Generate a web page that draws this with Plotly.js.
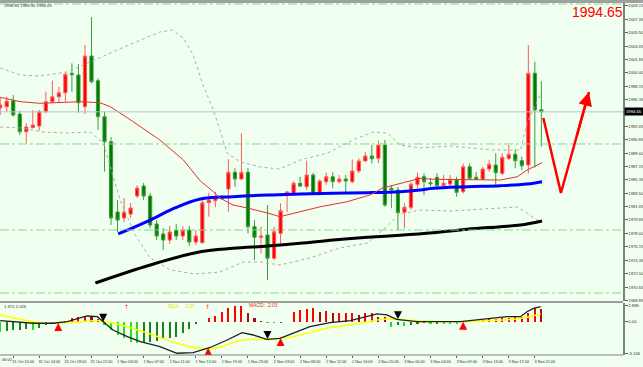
<!DOCTYPE html>
<html><head><meta charset="utf-8">
<script src="https://cdn.plot.ly/plotly-3.0.1.min.js"></script>
<style>html,body{margin:0;padding:0;background:#f0fff0}#chart{width:643px;height:367px}</style>
</head><body><div id="chart"></div>
<script>
// ---- hourly candles (index 0..83) ----
const candleOpen = [1995.18,1995.35,1996.18,1994.35,1991.93,1992.48,1992.71,1994.67,1996.04,1996.72,
1997.27,1999.93,1999.70,1995.35,2002.30,1998.92,1993.98,1990.56,1980.93,1980.11,
1980.65,1983.12,1984.49,1983.12,1979.29,1977.92,1977.09,1978.46,1977.64,1978.46,
1976.82,1976.72,1982.20,1982.48,1982.92,1984.08,1986.37,1985.45,1986.37,1978.92,
1977.46,1977.78,1974.59,1978.01,1983.53,1983.39,1984.86,1984.39,1986.00,1983.39,
1985.08,1985.76,1985.08,1985.45,1985.08,1986.55,1987.92,1988.60,1988.29,1990.11,
1984.18,1983.94,1980.89,1981.57,1984.72,1985.76,1984.94,1985.68,1984.53,1984.76,
1985.31,1983.71,1987.13,1985.68,1985.41,1986.82,1987.37,1986.23,1988.29,1988.83,
1987.96,1987.37,1999.93,1994.95];
const candleHigh = [1996.68,1996.72,1996.96,1994.81,1993.12,1994.90,1994.90,1997.41,1998.92,1998.09,
2000.15,2001.30,2001.20,2003.81,2007.64,1999.24,1994.67,1991.20,1982.57,1982.85,
1982.16,1984.63,1984.90,1983.53,1979.83,1978.74,1979.01,1979.29,1979.01,1979.01,
1978.46,1982.57,1983.57,1983.71,1983.26,1988.15,1986.92,1991.71,1986.92,1979.83,
1978.92,1981.89,1978.92,1982.12,1983.71,1985.18,1985.76,1987.96,1986.30,1985.40,
1986.31,1986.37,1986.00,1986.00,1988.15,1988.29,1989.19,1990.11,1990.70,1990.79,
1984.63,1984.35,1982.12,1985.08,1986.31,1986.23,1985.59,1986.23,1986.00,1986.00,
1985.76,1987.60,1987.60,1986.41,1987.13,1988.05,1988.97,1988.97,1990.11,1989.52,
1988.50,2003.81,2001.52,1998.85];
const candleLow = [1994.22,1994.67,1993.98,1991.48,1990.34,1992.39,1992.07,1994.45,1995.82,1995.90,
1996.04,1997.41,1994.53,1994.35,1998.56,1992.16,1986.45,1979.15,1978.19,1979.56,
1980.11,1982.85,1982.57,1978.74,1977.09,1975.72,1976.55,1977.09,1977.09,1976.27,
1976.41,1976.64,1980.29,1981.57,1982.57,1980.97,1984.39,1985.31,1978.01,1974.35,
1975.27,1971.61,1974.35,1976.64,1980.97,1983.39,1984.39,1983.94,1983.39,1983.20,
1984.63,1984.18,1984.86,1983.57,1984.86,1986.23,1987.82,1987.60,1987.60,1981.65,
1981.44,1978.46,1978.70,1981.20,1984.18,1983.26,1984.39,1983.94,1984.39,1984.39,
1983.02,1983.49,1985.31,1985.31,1985.31,1986.45,1984.63,1986.00,1988.05,1986.92,
1986.68,1986.23,1987.00,1989.90];
const candleClose = [1995.59,1996.13,1994.22,1991.93,1992.57,1992.85,1994.67,1996.04,1996.72,1997.27,
1999.79,1999.74,1995.90,2002.30,1998.78,1993.98,1990.56,1980.11,1979.83,1980.93,
1981.48,1984.22,1983.12,1979.15,1977.64,1977.09,1978.19,1977.64,1978.46,1976.82,
1977.64,1982.20,1982.57,1982.94,1982.78,1986.37,1985.45,1986.37,1978.92,1977.46,
1977.64,1974.59,1978.23,1981.11,1983.67,1984.86,1984.49,1986.00,1983.39,1985.18,
1985.76,1985.08,1985.45,1985.18,1986.55,1987.92,1988.60,1988.23,1990.11,1981.89,
1983.94,1980.83,1981.57,1984.72,1985.68,1985.08,1984.80,1984.53,1984.86,1985.41,
1983.63,1987.13,1985.55,1985.41,1986.82,1987.46,1986.31,1988.42,1988.83,1987.96,
1987.27,1999.93,1994.90,1994.65];

// ---- indicator lines (x = candle index) ----
const maRedX = [0,3.1,6.1,9.2,12.3,15.3,16.9,20.4,24.5,28.1,30.7,32.7,33.7,35.7,37.9,41,42.9,46,49.1,53.2,56.7,58.7,61.3,64.4,66.4,71.6,76.7,79.3,80.8,83.1];
const maRedY = [1996.64,1996.04,1995.82,1995.90,1996.04,1995.90,1995.35,1993.30,1990.79,1988.05,1985.18,1983.71,1982.85,1981.89,1981.48,1980.79,1980.29,1980.97,1981.65,1982.34,1983.26,1984.22,1984.86,1985.55,1985.41,1985.31,1985.31,1985.76,1986.68,1987.68];
const maBlueX = [18.1,23,26.8,30.7,35.7,41,46,51.1,56.3,61.3,64.4,66.4,71.6,76.7,80.8,83.1];
const maBlueY = [1977.92,1979.83,1981.48,1982.71,1983.03,1983.26,1983.39,1983.49,1983.57,1983.71,1983.94,1984.18,1984.39,1984.53,1984.76,1985.08];
const maBlackX = [14.6,23,30.7,35.7,41,46,51.1,56.3,61.3,66.4,71.6,76.7,79.8,83.1];
const maBlackY = [1971.20,1973.67,1975.49,1975.96,1976.27,1976.64,1977.09,1977.46,1977.74,1978.09,1978.56,1978.92,1979.15,1979.70];
const bbUpX = [0,3.1,6.1,10.3,12.7,16.9,18.9,21.5,24.5,26.4,28.1,29.6,31.1,32.7,33.7,34.8,36.8,39.9,42.9,46,50.2,54.1,57.2,59.4,61.3,64.4,69,75.6,79.8,80.8,82.8];
const bbUpY = [2000.66,1999.70,1999.56,2000.11,2001.07,2002.71,2003.53,2004.49,2005.59,2005.86,2004.76,2002.44,1998.33,1994.90,1992.16,1989.01,1987.78,1987.09,1986.82,1988.05,1989.01,1990.79,1991.89,1991.75,1990.11,1989.70,1989.97,1989.42,1989.42,1993.12,1996.96];
const bbLoX = [0,3.1,6.6,10.3,13.8,15.8,16.9,18.4,20.7,23,26.1,29.9,33.7,37.3,39.9,42.9,47.5,52.1,56.3,58.7,61.3,64.4,69,75.2,79.3,80.8,82.8];
const bbLoY = [1992.57,1992.44,1991.89,1991.75,1991.89,1990.38,1987.09,1982.57,1977.78,1974.63,1972.98,1972.44,1972.71,1974.08,1974.08,1973.67,1974.63,1976.00,1976.68,1978.46,1980.65,1981.20,1981.07,1981.34,1981.61,1980.79,1979.56];

// horizontal levels (dash-dot) and last price
const levelPrices = [2009.42, 1990.25, 1978.47, 1969.84];
const lastPrice = 1994.65;
const headerText = "1998.85 1989.90 1994.65";

// hand-drawn projection path (index, price)
const projX = [83.3, 86.0, 90.3];
const projY = [1993.81, 1983.53, 1997.37];

// ---- MACD pane ----
const macdHist = [-1.5,-1.4,-1.3,-1.2,-1.15,-1.2,-1.0,-0.5,-0.25,-0.12,
0.1,0.54,0.78,0.89,0.78,0.38,-0.49,-1.26,-2.03,-2.54,
-3.05,-3.31,-3.2,-3.05,-2.9,-2.69,-2.54,-2.29,-1.77,-1.15,
-0.34,-0.08,0.54,0.88,1.55,2.07,2.43,2.43,1.31,0.54,
0.17,-0.23,-0.23,-0.2,-0.1,1.55,1.81,1.92,2.07,1.55,
1.71,1.31,1.31,1.31,1.4,1.05,1.31,1.31,0.78,0.69,
-0.85,-0.49,-0.65,-0.49,-0.34,-0.23,-0.38,-0.34,-0.34,-0.34,
-0.38,0.05,0.17,0.17,0.28,0.38,0.38,0.54,0.54,0.69,
0.78,1.31,2.07,2.03];
const difX = [0,2,5.1,8.1,10.3,13.3,14.9,15.8,17.3,19.5,21.5,24.5,27.1,29.6,32.2,34.8,37.1,38.8,40.9,42.9,44.9,47.5,50.6,53.7,57.8,59.3,60.8,63.9,70.6,72.1,74.6,77.7,79.8,80.8,81.8,82.9];
const difY = [0.17,0.02,-0.23,-0.23,0.02,0.89,0.78,0.02,-1.26,-2.29,-3.06,-3.83,-4.84,-4.75,-3.95,-2.80,-1.68,-2.03,-2.69,-2.54,-1.77,-0.75,-0.14,0.17,1.20,1.05,0.38,0.02,0.02,0.17,0.38,0.78,0.78,1.55,2.07,2.32];
const deaX = [0,5.1,8.1,12.7,15.3,19.5,23.5,27.1,30.7,33,37.3,40.9,44.9,50.1,55.2,58.7,60.8,63.9,71.1,74.6,78.7,80.8,82.9];
const deaY = [1.05,0.02,-0.23,0.02,0.17,-0.75,-2.03,-3.30,-4.07,-4.03,-2.80,-2.69,-2.29,-1.00,-0.23,0.38,0.38,0.17,0.02,0.17,0.38,0.69,1.20];
const crossUpX = [8.9, 31.9, 43, 71];
const crossUpY = [-0.18, -4.0, -2.5, 0.0];
const crossDnX = [15.8, 41, 61];
const crossDnY = [0.0, -2.65, 0.4];
const macdRange = [-5.106, 2.886];

// ---- axis labels ----
const priceTicks = [2009.15,2007.35,2005.50,2003.65,2001.85,2000.00,1998.15,1996.35,1992.65,1990.85,1989.00,1987.15,1985.35,1983.50,1981.65,1979.85,1978.00,1976.15,1974.35,1972.50,1970.65,1968.85];
const timeTickIdx = [2,6,10,14,18,22,26,30,34,38,42,46,50,54,58,62,66,70,74,78,82];
const timeTickText = ["31 Oct 10:00","31 Oct 14:00","31 Oct 18:00","31 Oct 22:00","1 Nov 03:00","1 Nov 07:00","1 Nov 11:00","1 Nov 15:00","1 Nov 19:00","1 Nov 23:00","2 Nov 03:00","2 Nov 08:00","2 Nov 12:00","2 Nov 16:00","2 Nov 20:00","3 Nov 00:00","3 Nov 04:00","3 Nov 09:00","3 Nov 13:00","3 Nov 17:00","3 Nov 21:00"];

// ---------------- build ----------------
const idx = candleOpen.map((_, i) => i);
const histColors = macdHist.map((v, i) => {
  const prev = i > 0 ? macdHist[i - 1] : v;
  if (v >= 0) return v >= prev ? '#ff0000' : '#a01010';
  return v <= prev ? '#22dd22' : '#1f7f1f';
});

const traces = [
  {type:'scatter', x:bbUpX, y:bbUpY, mode:'lines', line:{color:'#a8b0a8', width:1, dash:'dot'}, hoverinfo:'skip', xaxis:'x', yaxis:'y'},
  {type:'scatter', x:bbLoX, y:bbLoY, mode:'lines', line:{color:'#a8b0a8', width:1, dash:'dot'}, hoverinfo:'skip', xaxis:'x', yaxis:'y'},
  {type:'scatter', x:maBlackX, y:maBlackY, mode:'lines', line:{color:'#000000', width:3, shape:'spline'}, hoverinfo:'skip', xaxis:'x', yaxis:'y'},
  {type:'scatter', x:maBlueX, y:maBlueY, mode:'lines', line:{color:'#0000ff', width:3, shape:'spline'}, hoverinfo:'skip', xaxis:'x', yaxis:'y'},
  {type:'scatter', x:maRedX, y:maRedY, mode:'lines', line:{color:'#e83030', width:1}, hoverinfo:'skip', xaxis:'x', yaxis:'y'},
  {type:'candlestick', x:idx, open:candleOpen, high:candleHigh, low:candleLow, close:candleClose,
   increasing:{line:{color:'#ff5a5a', width:1}, fillcolor:'#ff0000'},
   decreasing:{line:{color:'#3c9c3c', width:1}, fillcolor:'#007a00'},
   whiskerwidth:0, hoverinfo:'skip', xaxis:'x', yaxis:'y'},
  {type:'scatter', x:projX, y:projY, mode:'lines', line:{color:'#ff0000', width:2.5}, hoverinfo:'skip', xaxis:'x', yaxis:'y'},
  {type:'bar', x:idx, y:macdHist, width:0.32, marker:{color:histColors, line:{width:0}}, hoverinfo:'skip', xaxis:'x2', yaxis:'y2'},
  {type:'scatter', x:deaX, y:deaY, mode:'lines', line:{color:'#ffff00', width:1.5, shape:'spline'}, hoverinfo:'skip', xaxis:'x2', yaxis:'y2'},
  {type:'scatter', x:difX, y:difY, mode:'lines', line:{color:'#202020', width:1.3}, hoverinfo:'skip', xaxis:'x2', yaxis:'y2'},
  {type:'scatter', x:crossUpX, y:crossUpY, mode:'markers', marker:{symbol:'arrow-up', size:8, color:'#ff0000'}, hoverinfo:'skip', xaxis:'x2', yaxis:'y2'},
  {type:'scatter', x:crossDnX, y:crossDnY, mode:'markers', marker:{symbol:'arrow-down', size:8, color:'#000000'}, hoverinfo:'skip', xaxis:'x2', yaxis:'y2'}
];

const PW = 623, PB = 355, PH = 352;
const px = v => v / PW;
const py = v => (PB - v) / PH;

const shapes = levelPrices.map(p => ({type:'line', xref:'paper', x0:0, x1:1, yref:'y', y0:p, y1:p, line:{color:'#7ee07e', width:1, dash:'dashdot'}}));
shapes.push({type:'line', xref:'paper', x0:0, x1:1, yref:'y', y0:lastPrice, y1:lastPrice, line:{color:'#b4c4c8', width:1}});
shapes.push({type:'rect', xref:'paper', x0:0, x1:643/PW, yref:'paper', y0:py(3), y1:py(0), fillcolor:'#a0a0a0', line:{width:0}});
shapes.push({type:'line', xref:'paper', x0:0, x1:1, yref:'paper', y0:py(302), y1:py(302), line:{color:'#808080', width:1.5}});
shapes.push({type:'line', xref:'paper', x0:0, x1:1, yref:'paper', y0:0, y1:0, line:{color:'#808080', width:1}});

const small = {family:'Liberation Sans, Arial, sans-serif', size:4.2, color:'#303030'};
// MACD scale labels sit a little inside the pane, as in the original
const macdLabelVals = [macdRange[1] - 0.45, 0, macdRange[0] + 0.2];
const annotations = [
  {xref:'paper', yref:'paper', x:px(2), y:py(5), xanchor:'left', yanchor:'middle', text:headerText, showarrow:false, font:small},
  {xref:'paper', yref:'paper', x:px(597.5), y:py(12), xanchor:'center', yanchor:'middle', text:String(lastPrice.toFixed(2)), showarrow:false, font:{family:'Liberation Sans, Arial, sans-serif', size:14, color:'#ff0000'}},
  {xref:'paper', yref:'y', x:px(624), y:lastPrice, xanchor:'left', yanchor:'middle', text:lastPrice.toFixed(2), showarrow:false, bgcolor:'#000000', borderpad:1, font:{family:'Liberation Sans, Arial, sans-serif', size:4.2, color:'#ffffff'}},
  {xref:'x', yref:'y', x:projX[2], y:projY[2], axref:'x', ayref:'y', ax:projX[1] + (projX[2]-projX[1])*0.55, ay:projY[1] + (projY[2]-projY[1])*0.55, text:'', showarrow:true, arrowhead:2, arrowsize:1.1, arrowwidth:2.5, arrowcolor:'#ff0000', standoff:0},
  {xref:'paper', yref:'paper', x:px(2), y:py(306), xanchor:'left', yanchor:'middle', text:'1.372 2.026', showarrow:false, font:small},
  {xref:'paper', yref:'paper', x:px(126), y:py(306), xanchor:'center', yanchor:'middle', text:'↑', showarrow:false, font:{family:'DejaVu Sans', size:6, color:'#ff3030'}},
  {xref:'paper', yref:'paper', x:px(166), y:py(306), xanchor:'left', yanchor:'middle', text:'DEA:&nbsp;&nbsp;&nbsp;&nbsp;1.37', showarrow:false, font:{family:'Liberation Sans, Arial, sans-serif', size:5, color:'#e6e600'}},
  {xref:'paper', yref:'paper', x:px(207), y:py(306), xanchor:'center', yanchor:'middle', text:'↑', showarrow:false, font:{family:'DejaVu Sans', size:6, color:'#ff3030'}},
  {xref:'paper', yref:'paper', x:px(247), y:py(305), xanchor:'left', yanchor:'middle', text:'MACD:&nbsp;&nbsp;2.03', showarrow:false, font:{family:'Liberation Sans, Arial, sans-serif', size:5, color:'#ff2020'}},
  {xref:'paper', yref:'paper', x:0, y:py(360), xanchor:'left', yanchor:'middle', text:'06:00', showarrow:false, font:{family:'Liberation Sans, Arial, sans-serif', size:3.8, color:'#303030'}}
];

const layout = {
  width:643, height:367,
  margin:{l:0, r:20, t:3, b:12, pad:0},
  paper_bgcolor:'#f0fff0', plot_bgcolor:'#f0fff0',
  showlegend:false, hovermode:false, dragmode:false,
  bargap:0,
  xaxis:{domain:[0,1], anchor:'y', range:[-0.03, 95.52], showticklabels:false, showgrid:false, zeroline:false, showline:false, ticks:'', rangeslider:{visible:false}, fixedrange:true},
  xaxis2:{domain:[0,1], anchor:'y2', matches:'x', range:[-0.03, 95.52], showgrid:false, zeroline:false, showline:false,
    tickmode:'array', tickvals:timeTickIdx, ticktext:timeTickText, ticks:'outside', ticklen:2, tickcolor:'#606060',
    ticklabelshift:10, tickfont:{family:'Liberation Sans, Arial, sans-serif', size:3.8, color:'#303030'}, tickangle:0, fixedrange:true},
  yaxis:{domain:[(PB-301)/PH, 1], anchor:'x', side:'right', range:[1968.74, 2009.56], showgrid:false, zeroline:false,
    showline:true, linecolor:'#808080', linewidth:1.5, tickmode:'array', tickvals:priceTicks, ticktext:priceTicks.map(v=>v.toFixed(2)),
    ticks:'outside', ticklen:3, tickcolor:'#606060', tickfont:small, fixedrange:true},
  yaxis2:{domain:[0, (PB-303)/PH], anchor:'x2', side:'right', range:macdRange, showgrid:false, zeroline:false,
    showline:true, linecolor:'#808080', linewidth:1.5, tickmode:'array', tickvals:macdLabelVals,
    ticktext:[macdRange[1].toFixed(3), '0.00', macdRange[0].toFixed(3)], ticks:'outside', ticklen:3, tickcolor:'#606060', tickfont:small, fixedrange:true},
  shapes:shapes, annotations:annotations
};

Plotly.newPlot('chart', traces, layout, {staticPlot:true, displayModeBar:false});
</script></body></html>
